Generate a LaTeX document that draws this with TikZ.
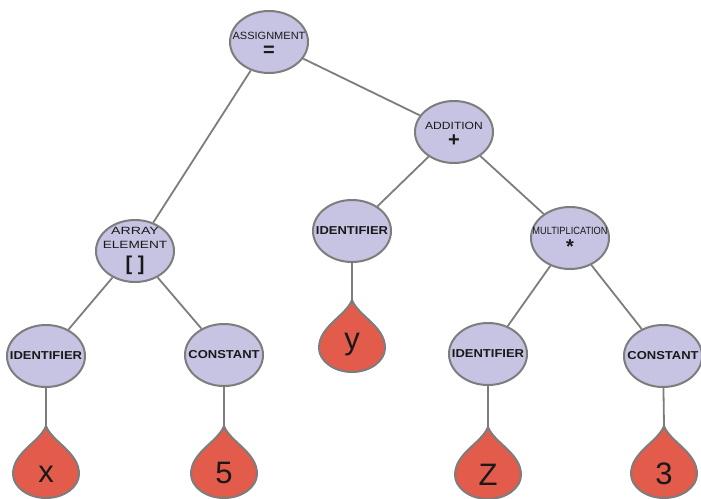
\documentclass[tikz,border=0pt]{standalone}
\usepackage{fontspec}
\usepackage{graphicx}
\setmainfont{Liberation Sans}
\newfontfamily\wideface[FakeStretch=1.13]{Liberation Sans}
\usetikzlibrary{shapes.geometric}

\definecolor{astfill}{RGB}{198,196,226}
\definecolor{edgegray}{RGB}{125,125,125}
\definecolor{leaffill}{RGB}{226,91,75}
\newcommand{\op}[1]{{\fontsize{20}{20}\selectfont\bfseries #1}}
\newcommand{\sx}[2]{\scalebox{#1}[1]{#2}}

\begin{document}
\begin{tikzpicture}[x=1pt,y=-1pt,
	ast/.style={ellipse,draw=edgegray,fill=astfill,line width=2pt,minimum width=78pt,minimum height=62pt,inner sep=0pt},
	link/.style={draw=edgegray,line width=1.8pt},
	kind/.style={font=\fontsize{10.5}{12}\selectfont,align=center,text=black!90},
	kindb/.style={font=\wideface\bfseries\fontsize{11.5}{12}\selectfont,text=black!90},
	leafnum/.style={font=\fontsize{31}{31}\selectfont,anchor=base,text=black!90},
	drop/.pic={\draw[edgegray,fill=leaffill,line width=2pt] (0,0) .. controls (6,16) and (33,26) .. (33,48)
		.. controls (33,61) and (18,72) .. (0,72) .. controls (-18,72) and (-33,61) .. (-33,48)
		.. controls (-33,26) and (-6,16) .. (0,0) -- cycle;}]
	\useasboundingbox (0,0) rectangle (701,498);

	% inner nodes
	\node[ast,label={[kind,yshift=-2pt]center:{\sx{1.05}{ASSIGNMENT}\\[5pt]\op{=}}}] (asg) at (269,42) {};
	\node[ast,label={[kind,yshift=-2pt]center:{\sx{1.15}{ADDITION}\\[5pt]\op{+}}}] (add) at (454,132) {};
	\node[ast,label={[kind]center:{\sx{1.35}{ARRAY}\\[2pt]\sx{1.3}{ELEMENT}\\[6pt]\op{[ ]}}}] (arr) at (135,251) {};
	\node[ast,label={[kind,yshift=-2pt]center:{\sx{0.88}{MULTIPLICATION}\\[4pt]\op{*}}}] (mul) at (570,238) {};
	\node[ast,label={[kindb]center:IDENTIFIER}] (idy) at (352,231) {};
	\node[ast,label={[kindb]center:IDENTIFIER}] (idx) at (46,356) {};
	\node[ast,label={[kindb]center:CONSTANT}] (c5) at (224,355) {};
	\node[ast,label={[kindb]center:IDENTIFIER}] (idz) at (488,354) {};
	\node[ast,label={[kindb]center:CONSTANT}] (c3) at (663,356) {};

	% leaves
	\foreach \n/\x/\y/\b/\t in {x/46/426/482/x, 5/224/426/483/5, y/352/300/349/y, z/488/427/485/Z, 3/664/426/484/3} {
		\coordinate (t\n) at (\x,\y);
		\pic at (t\n) {drop};
		\node[leafnum] (l\n) at (\x,\b) {\t};
	}

	\draw[link] (asg) -- (arr);
	\draw[link] (asg) -- (add);
	\draw[link] (add) -- (idy);
	\draw[link] (add) -- (mul);
	\draw[link] (arr) -- (idx);
	\draw[link] (arr) -- (c5);
	\draw[link] (mul) -- (idz);
	\draw[link] (mul) -- (c3);
	\draw[link] (idx) -- (tx);
	\draw[link] (c5) -- (t5);
	\draw[link] (idy) -- (ty);
	\draw[link] (idz) -- (tz);
	\draw[link] (c3) -- (t3);
\end{tikzpicture}
\end{document}
